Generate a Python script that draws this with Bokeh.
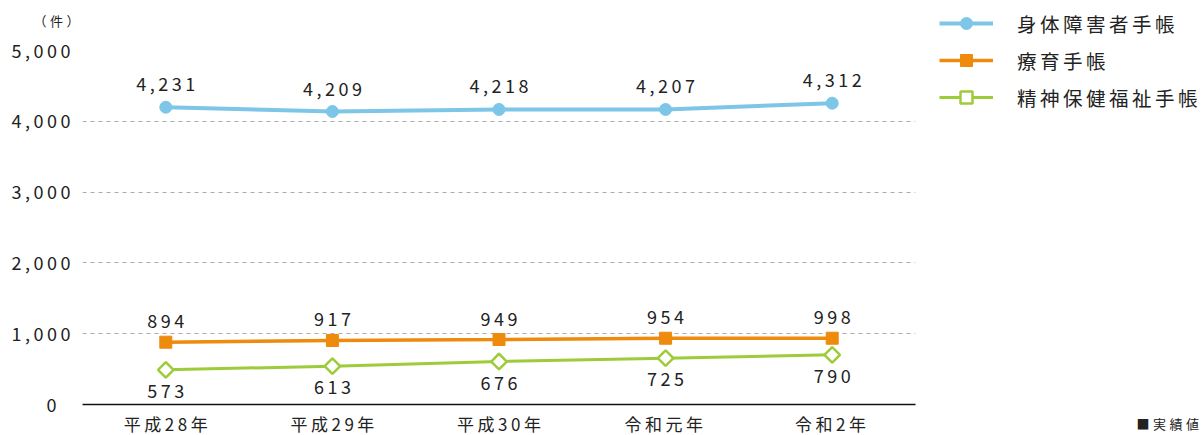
import math
from bokeh.plotting import figure
from bokeh.models import (Range1d, FixedTicker, NumeralTickFormatter, Legend,
                          LegendItem, Label, ColumnDataSource, InlineStyleSheet,
                          LinearAxis)
from bokeh.embed import file_html
from bokeh.resources import INLINE
from bokeh.core.properties import value

# ---- data ----
categories = ["平成28年", "平成29年", "平成30年", "令和元年", "令和2年"]
series_names = ["身体障害者手帳", "療育手帳", "精神保健福祉手帳"]
# plotted positions
physical = [4199, 4138, 4167, 4167, 4256]
ryoiku = [880, 904, 918, 936, 936]
mental = [490, 541, 607, 654, 702]
# printed data labels
physical_labels = ["4,231", "4,209", "4,218", "4,207", "4,312"]
ryoiku_labels = ["894", "917", "949", "954", "998"]
mental_labels = ["573", "613", "676", "725", "790"]
y_ticks = [0, 1000, 2000, 3000, 4000, 5000]
unit_text = "（件）"
note_text = "■実績値"

FONT = "Noto Sans CJK JP"
BLUE = "#7dc6e8"
ORANGE = "#ee8a0c"
GREEN = "#9ecb3a"
TXT = "#222222"
SP = 3.5  # letter spacing (px)

css = InlineStyleSheet(css=":host { letter-spacing: %spx; }" % SP)

n = len(categories)
xpos = list(range(n))  # category index positions
cat_labels = {i: c for i, c in enumerate(categories)}
FW, FH = 833, 354
px_x = FW / n          # pixels per category
px_y = FH / 5000.0     # pixels per unit

p = figure(frame_width=FW, frame_height=FH, x_range=Range1d(-0.5, n - 0.5),
           y_range=Range1d(0, 5000), x_axis_location=None,
           output_backend="svg", toolbar_location=None,
           min_border_left=82, min_border_right=287, min_border_top=50,
           min_border_bottom=31, stylesheets=[css])
p.outline_line_color = None
p.background_fill_color = "white"
p.border_fill_color = "white"

p.xgrid.grid_line_color = None
p.ygrid.grid_line_color = "#aaaaaa"
p.ygrid.grid_line_dash = "4 4"
p.ygrid.grid_line_width = 1

p.yaxis.ticker = FixedTicker(ticks=y_ticks)
p.yaxis.formatter = NumeralTickFormatter(format="0,0")
p.yaxis.axis_line_color = None
p.yaxis.major_tick_line_color = None
p.yaxis.minor_tick_line_color = None
p.yaxis.major_tick_out = 0
p.yaxis.major_tick_in = 0
p.yaxis.major_label_standoff = 26
p.yaxis.major_label_text_font = FONT
p.yaxis.major_label_text_font_size = "18px"
p.yaxis.major_label_text_color = TXT

# category axis (range nudged so letter-spaced labels stay centred)
nudge = 2 * SP / px_x
p.extra_x_ranges = {"lab": Range1d(-0.5 + nudge, n - 0.5 + nudge)}
xaxis = LinearAxis(x_range_name="lab", ticker=FixedTicker(ticks=xpos),
                   major_label_overrides=cat_labels)
xaxis.axis_line_color = "#111111"
xaxis.axis_line_width = 1.5
xaxis.major_tick_line_color = None
xaxis.minor_tick_line_color = None
xaxis.major_tick_out = 0
xaxis.major_tick_in = 0
xaxis.major_label_standoff = 6
xaxis.major_label_text_font = FONT
xaxis.major_label_text_font_size = "17px"
xaxis.major_label_text_color = TXT
p.add_layout(xaxis, "below")

src_b = ColumnDataSource(dict(x=xpos, y=physical, t=physical_labels))
src_o = ColumnDataSource(dict(x=xpos, y=ryoiku, t=ryoiku_labels))
src_g = ColumnDataSource(dict(x=xpos, y=mental, t=mental_labels))

def draw(fig, src, color, lw, marker, size, fill, mlw, angle=0.0):
    l = fig.line("x", "y", source=src, line_color=color, line_width=lw)
    m = fig.scatter("x", "y", source=src, marker=marker, size=size, angle=angle,
                    fill_color=fill, line_color=color, line_width=mlw)
    return l, m

rb = draw(p, src_b, BLUE, 4, "circle", 12, BLUE, 1)
ro = draw(p, src_o, ORANGE, 3.5, "square", 12, ORANGE, 1)
rg = draw(p, src_g, GREEN, 3, "square", 11, "white", 2.5, math.pi / 4)

for src, off, dx in ((src_b, -23, -2 * SP), (src_o, -21, -SP), (src_g, 21, -SP)):
    p.text("x", "y", text="t", source=src, y_offset=off, x_offset=dx,
           text_align="center", text_baseline="middle", text_font=value(FONT),
           text_font_size="18px", text_color=TXT)

# legend in the right-hand panel (top edge ~8px from the top of the figure)
legend = Legend(items=[
    LegendItem(label=series_names[0], renderers=list(rb)),
    LegendItem(label=series_names[1], renderers=list(ro)),
    LegendItem(label=series_names[2], renderers=list(rg)),
], location=(24, FH + 50 - 8 - 104))
legend.border_line_color = None
legend.background_fill_alpha = 0
legend.padding = 0
legend.margin = 0
legend.spacing = 7
legend.glyph_width = 54
legend.glyph_height = 30
legend.label_height = 30
legend.label_standoff = 24
legend.label_text_font = FONT
legend.label_text_font_size = "19.5px"
legend.label_text_color = TXT
legend.label_text_baseline = "middle"
p.add_layout(legend, "right")

# unit text above the y axis, note text bottom-right (placed in side panels)
p.add_layout(Label(x=-0.5 - 49 / px_x, y=5000 + 30 / px_y, text=unit_text,
                   text_align="left", text_baseline="middle",
                   text_font=FONT, text_font_size="13px", text_color=TXT), "above")
p.add_layout(Label(x=-0.5 + 1054 / px_x, y=-19 / px_y, text=note_text,
                   text_align="left", text_baseline="middle",
                   text_font=FONT, text_font_size="13px", text_color=TXT), "right")

open("out.html", "w").write(file_html(p, INLINE))
